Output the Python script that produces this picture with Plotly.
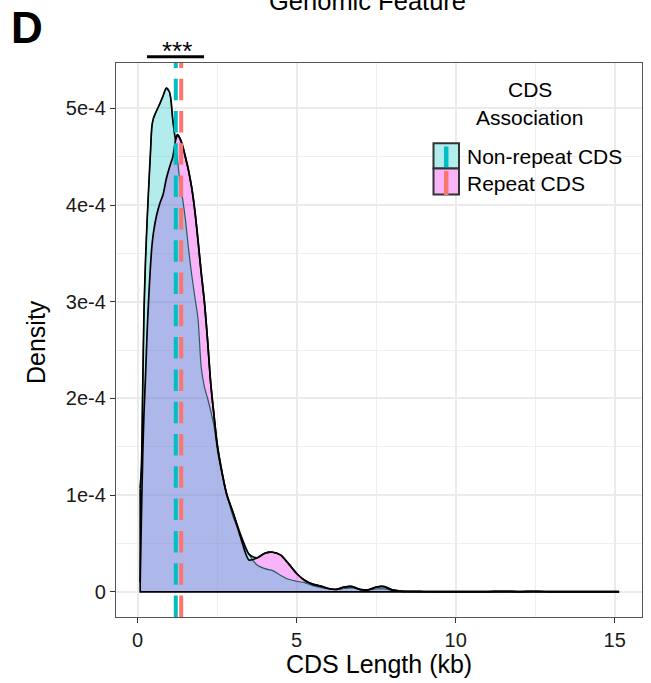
import plotly.graph_objects as go

# ---------------- data (density in units of 1e-4) ----------------
CDS_KB = [0.08, 0.12, 0.16, 0.2, 0.25, 0.3, 0.35, 0.4, 0.45, 0.5, 0.6, 0.7, 0.8, 0.9,
          1.0, 1.05, 1.1, 1.2, 1.25, 1.3, 1.4, 1.5, 1.6, 1.7, 1.8, 1.9, 2.0, 2.1, 2.2,
          2.3, 2.4, 2.5, 2.6, 2.8, 3.0, 3.25, 3.5, 3.75, 4.0, 4.25, 4.5, 4.75, 5.0,
          5.25, 5.5, 5.75, 6.0, 6.25, 6.5, 6.75, 7.0, 7.25, 7.5, 7.75, 8.0, 8.25, 8.5,
          9.0, 10.0, 11.0, 11.5, 12.0, 12.6, 13.0, 14.0, 15.14]

NONREPEAT_DENSITY = [1.07, 1.3, 2.1, 2.9, 3.45, 3.85, 4.2, 4.52, 4.82, 4.9, 4.98, 5.05, 5.13, 5.21,
                     5.17, 5.08, 4.9, 4.6, 4.48, 4.33, 4.1, 3.86, 3.55, 3.28, 3.05, 2.82, 2.32, 2.12, 2.0,
                     1.87, 1.72, 1.48, 1.3, 1.01, 0.78, 0.58, 0.39, 0.28, 0.24, 0.22, 0.17, 0.13, 0.11,
                     0.095, 0.065, 0.045, 0.03, 0.025, 0.035, 0.04, 0.025, 0.02, 0.03, 0.03, 0.015, 0.008, 0.005,
                     0.004, 0.003, 0.003, 0.004, 0.003, 0.004, 0.002, 0.002, 0.002]

REPEAT_DENSITY = [0.1, 0.8, 1.4, 1.85, 2.25, 2.7, 3.05, 3.35, 3.58, 3.72, 3.9, 4.02, 4.11, 4.27,
                  4.39, 4.44, 4.49, 4.68, 4.73, 4.71, 4.63, 4.5, 4.36, 4.18, 3.94, 3.63, 3.3, 3.0, 2.6,
                  2.15, 1.83, 1.53, 1.33, 1.01, 0.82, 0.55, 0.33, 0.35, 0.40, 0.41, 0.38, 0.29, 0.19,
                  0.12, 0.08, 0.06, 0.035, 0.025, 0.05, 0.055, 0.022, 0.02, 0.05, 0.055, 0.02, 0.008, 0.004,
                  0.003, 0.003, 0.003, 0.006, 0.003, 0.006, 0.002, 0.002, 0.002]

MEDIAN_NONREPEAT = 1.20
MEDIAN_REPEAT = 1.37

SERIES_NAMES = ["Non-repeat CDS", "Repeat CDS"]
X_TICKS = [0, 5, 10, 15]
X_TICK_LABELS = ["0", "5", "10", "15"]
Y_TICKS = [0, 1, 2, 3, 4, 5]
Y_TICK_LABELS = ["0", "1e-4", "2e-4", "3e-4", "4e-4", "5e-4"]
SCALE = 1e-4

# ---------------- styling ----------------
FONT = "Liberation Sans, Arial, sans-serif"
TEAL = "#00BFC4"
SALMON = "#F8766D"
N_FILL = "rgba(0,191,196,0.30)"
R_FILL = "rgba(235,5,235,0.30)"

W, H = 651, 683
L, R, T, B = 116, 642, 63, 617


def px_x(px):
    return (px - L) / (R - L)


def px_y(py):
    return (B - py) / (B - T)


n_y = [v * SCALE for v in NONREPEAT_DENSITY]
r_y = [v * SCALE for v in REPEAT_DENSITY]
env_y = [max(a, b) for a, b in zip(n_y, r_y)]

fig = go.Figure()

spl = dict(shape="spline", smoothing=0.7)

fig.add_trace(go.Scatter(x=CDS_KB, y=r_y, fill="tozeroy", fillcolor=R_FILL,
                         mode="lines", line=dict(width=0, **spl), showlegend=False,
                         name=SERIES_NAMES[1], hoverinfo="skip"))
fig.add_trace(go.Scatter(x=CDS_KB, y=n_y, fill="tozeroy", fillcolor=N_FILL,
                         mode="lines", line=dict(width=0, **spl), showlegend=False,
                         name=SERIES_NAMES[0], hoverinfo="skip"))
fig.add_trace(go.Scatter(x=CDS_KB, y=n_y, mode="lines",
                         line=dict(color="#1F5F5F", width=1.2, **spl), showlegend=False, hoverinfo="skip"))
fig.add_trace(go.Scatter(x=CDS_KB, y=r_y, mode="lines",
                         line=dict(color="black", width=1.7, **spl), showlegend=False, hoverinfo="skip"))
fig.add_trace(go.Scatter(x=CDS_KB, y=env_y, mode="lines",
                         line=dict(color="black", width=1.7, **spl), showlegend=False, hoverinfo="skip"))
# baseline + left vertical edge of the density polygon
fig.add_trace(go.Scatter(x=[CDS_KB[-1], CDS_KB[0], CDS_KB[0]], y=[0, 0, n_y[0]], mode="lines",
                         line=dict(color="black", width=1.7), showlegend=False, hoverinfo="skip"))

shapes = []
# median dashed lines
for m, c in [(MEDIAN_NONREPEAT, TEAL), (MEDIAN_REPEAT, SALMON)]:
    shapes.append(dict(type="line", xref="x", yref="paper", x0=m, x1=m, y0=0, y1=1,
                       line=dict(color=c, width=4, dash="21.5px,10.8px"), layer="above"))

# significance bar
shapes.append(dict(type="line", xref="paper", yref="paper",
                   x0=px_x(147), x1=px_x(204), y0=px_y(56.7), y1=px_y(56.7),
                   line=dict(color="black", width=3)))

# manual legend keys
for (y0, y1, fill, lc, ly0, ly1) in [(143.3, 168.6, N_FILL, TEAL, 146.5, 168.5),
                                     (168.6, 194.5, R_FILL, SALMON, 171.0, 195.0)]:
    shapes.append(dict(type="rect", xref="paper", yref="paper",
                       x0=px_x(433.5), x1=px_x(459), y0=px_y(y1), y1=px_y(y0),
                       fillcolor="white", line=dict(width=0), layer="above"))
    shapes.append(dict(type="rect", xref="paper", yref="paper",
                       x0=px_x(433.5), x1=px_x(459), y0=px_y(y1), y1=px_y(y0),
                       fillcolor=fill, line=dict(color="#333333", width=2), layer="above"))
    shapes.append(dict(type="line", xref="paper", yref="paper",
                       x0=px_x(446.2), x1=px_x(446.2), y0=px_y(ly1), y1=px_y(ly0),
                       line=dict(color=lc, width=4.5), layer="above"))

annotations = []


def ann(text, px, py, size, xanchor="center", yanchor="middle", bold=False, angle=0, color="black"):
    t = f"<b>{text}</b>" if bold else text
    annotations.append(dict(text=t, xref="paper", yref="paper", x=px_x(px), y=px_y(py),
                            xanchor=xanchor, yanchor=yanchor, showarrow=False, textangle=angle,
                            font=dict(family=FONT, size=size, color=color)))


ann("Genomic Feature", 367, 1, 25.5)
ann("D", 27, 28, 44, bold=True)
ann("***", 177, 51, 26)
ann("CDS", 530, 89, 21)
ann("Association", 529, 117, 21)
ann(SERIES_NAMES[0], 464.5, 156, 21, xanchor="left")
ann(SERIES_NAMES[1], 464.5, 183.5, 21, xanchor="left")
ann("CDS Length (kb)", 379, 664, 25)
ann("Density", 36, 342, 25, angle=-90)

fig.update_layout(
    width=W, height=H,
    margin=dict(l=L, r=W - R, t=T, b=H - B, pad=0),
    paper_bgcolor="white", plot_bgcolor="white",
    font=dict(family=FONT, size=20, color="#1A1A1A"),
    showlegend=False,
    shapes=shapes, annotations=annotations,
)

fig.update_xaxes(range=[-0.68, 15.86], tickvals=X_TICKS, ticktext=X_TICK_LABELS,
                 ticks="outside", ticklen=5, tickwidth=1.3, tickcolor="#333333",
                 tickfont=dict(size=20, family=FONT, color="#1A1A1A"),
                 showgrid=True, gridcolor="#EBEBEB", gridwidth=1.5,
                 minor=dict(tickvals=[2.5, 7.5, 12.5], showgrid=True, gridcolor="#EFEFEF", gridwidth=0.8, ticks=""),
                 showline=True, mirror=True, linecolor="#555555", linewidth=1.3, zeroline=False)
fig.update_yaxes(range=[-0.26 * SCALE, 5.47 * SCALE], tickvals=[v * SCALE for v in Y_TICKS],
                 ticktext=Y_TICK_LABELS,
                 ticks="outside", ticklen=5, tickwidth=1.3, tickcolor="#333333",
                 tickfont=dict(size=20, family=FONT, color="#1A1A1A"),
                 showgrid=True, gridcolor="#EBEBEB", gridwidth=1.5,
                 minor=dict(tickvals=[v * SCALE for v in [0.5, 1.5, 2.5, 3.5, 4.5]], showgrid=True,
                            gridcolor="#EFEFEF", gridwidth=0.8, ticks=""),
                 showline=True, mirror=True, linecolor="#555555", linewidth=1.3, zeroline=False)

fig.write_html("out.html", config={"displayModeBar": False},
               post_script="document.body.style.margin='0px';document.body.style.padding='0px';")
